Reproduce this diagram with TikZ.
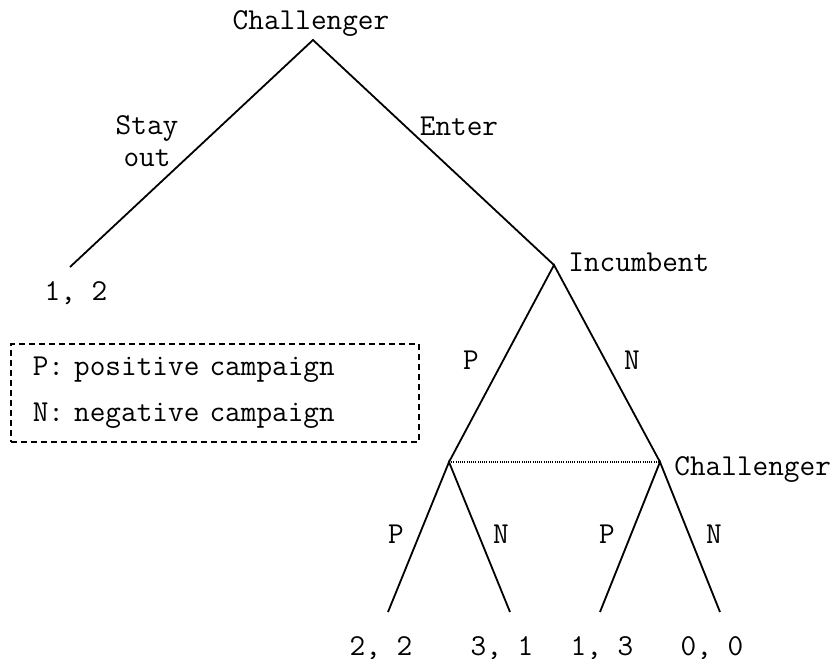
\documentclass[tikz,border=0pt]{standalone}
\usepackage{fontspec}
\renewcommand{\familydefault}{\ttdefault}
\tikzset{
	branch/.style={line width=0.9pt},
	lbl/.style={anchor=base, inner sep=0pt, font=\fontsize{15.2}{16}\selectfont},
	legendbox/.style={draw, line width=0.75pt, dash pattern=on 3pt off 2pt, anchor=north west,
		text width=182pt, inner xsep=11pt, minimum height=49pt, align=left,
		font=\fontsize{15.2}{23}\selectfont}
}
\begin{document}
\begin{tikzpicture}[x=0.5pt,y=-0.5pt]
		\useasboundingbox (0,0) rectangle (836,659);
		% vertices
		\coordinate (root) at (313,40);
		\coordinate (out) at (70,267);
		\coordinate (inc) at (554,265);
		\coordinate (cp) at (449,462);
		\coordinate (cn) at (660,462);
		\coordinate (pp) at (388,612);
		\coordinate (pn) at (510,612);
		\coordinate (np) at (600,612);
		\coordinate (nn) at (720,612);
		% branches
		\draw[branch] (out) -- (root) -- (inc);
		\draw[branch] (cp) -- (inc) -- (cn);
		\draw[branch] (pp) -- (cp) -- (pn);
		\draw[branch] (np) -- (cn) -- (nn);
		\draw[line width=0.6pt, dash pattern=on 0.5pt off 0.6pt] (cp) -- (cn);
		% players
		\node[lbl] (chal1) at (311,29) {Challenger};
		\node[lbl, anchor=base west] (incumb) at (568,271) {Incumbent};
		\node[lbl, anchor=base west] (chal2) at (674,475) {Challenger};
		% actions
		\node[lbl, align=center] (stay) at (147,166) {Stay\\out};
		\node[lbl] (enter) at (459,135) {Enter};
		\node[lbl] (p1) at (471,369) {P};
		\node[lbl] (n1) at (632,369) {N};
		\node[lbl] (p2) at (396,543) {P};
		\node[lbl] (n2) at (501,543) {N};
		\node[lbl] (p3) at (607,543) {P};
		\node[lbl] (n3) at (714,543) {N};
		% payoffs
		\node[lbl] (pay0) at (76,300) {1, 2};
		\node[lbl] (pay1) at (381,655) {2, 2};
		\node[lbl] (pay2) at (502,655) {3, 1};
		\node[lbl] (pay3) at (602,655) {1, 3};
		\node[lbl] (pay4) at (712,655) {0, 0};
		% legend
		\node[legendbox] (legend) at (10,343) {P: positive campaign\\N: negative campaign};
	\end{tikzpicture}
\end{document}
